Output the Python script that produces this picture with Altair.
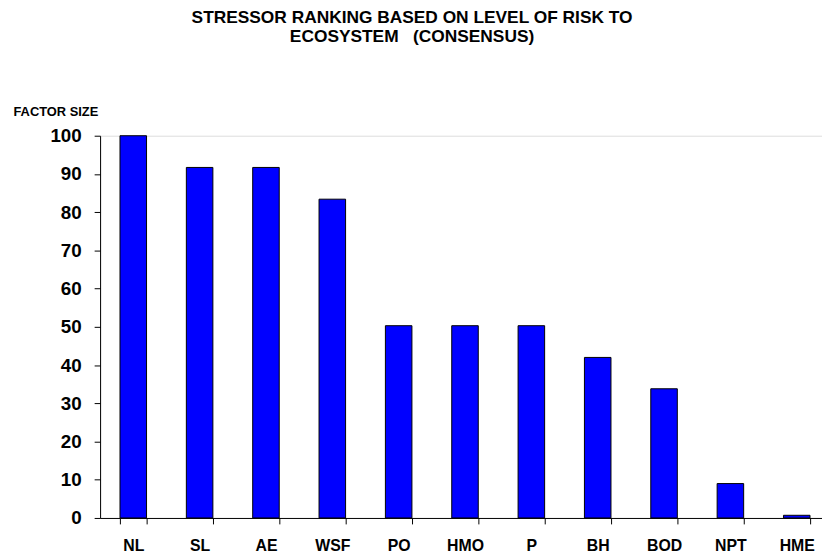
import altair as alt
import pandas as pd

categories = ["NL", "SL", "AE", "WSF", "PO", "HMO", "P", "BH", "BOD", "NPT", "HME"]
factor_size = [100, 91.7, 91.7, 83.4, 50.3, 50.3, 50.3, 42.0, 33.8, 9.0, 0.7]
y_ticks = [0, 10, 20, 30, 40, 50, 60, 70, 80, 90, 100]
title_lines = ["STRESSOR RANKING BASED ON LEVEL OF RISK TO",
               "ECOSYSTEM\u00a0\u00a0\u00a0(CONSENSUS)"]
y_title = "FACTOR SIZE"

df = pd.DataFrame({"stressor": categories, "factor": factor_size})

FONT = "Arial, Liberation Sans, sans-serif"

chart = alt.Chart(df).mark_bar(
    color="#0000FF", stroke="black", strokeWidth=1
).encode(
    x=alt.X(
        "stressor:N", sort=categories,
        scale=alt.Scale(paddingInner=0.6, paddingOuter=0.3, range=[0, 737]),
        axis=alt.Axis(
            title=None, labelAngle=0, tickBand="extent",
            labelFont=FONT, labelFontSize=16, labelFontWeight="bold",
            labelColor="black", domainColor="black", tickColor="black",
            tickSize=6, labelPadding=22, labelBaseline="middle",
            labelOverlap=False,
        ),
    ),
    y=alt.Y(
        "factor:Q",
        scale=alt.Scale(domain=[0, 100], nice=False),
        axis=alt.Axis(
            values=y_ticks, grid=False, title=y_title, titleAngle=0,
            titleX=-88, titleY=-24, titleAlign="left", titleBaseline="middle",
            titleFont=FONT, titleFontSize=13, titleFontWeight="bold",
            titleColor="black",
            labelFont=FONT, labelFontSize=19, labelFontWeight="bold",
            labelColor="black", labelPadding=13,
            domainColor="black", tickColor="black", tickSize=6,
        ),
    ),
).properties(
    width=729,
    height=386,
    autosize="none",
    padding={"left": 93, "top": 126.3, "right": 0, "bottom": 32.7},
    title=alt.TitleParams(
        text=title_lines, font=FONT, fontSize=17.5, fontWeight="bold",
        color="black", anchor="middle", frame="group", dx=-49.5,
        offset=61, lineHeight=19.5,
    ),
).configure_view(stroke=None).configure(background="white")

chart.save("out.html", embed_options={"renderer": "svg", "actions": False})
